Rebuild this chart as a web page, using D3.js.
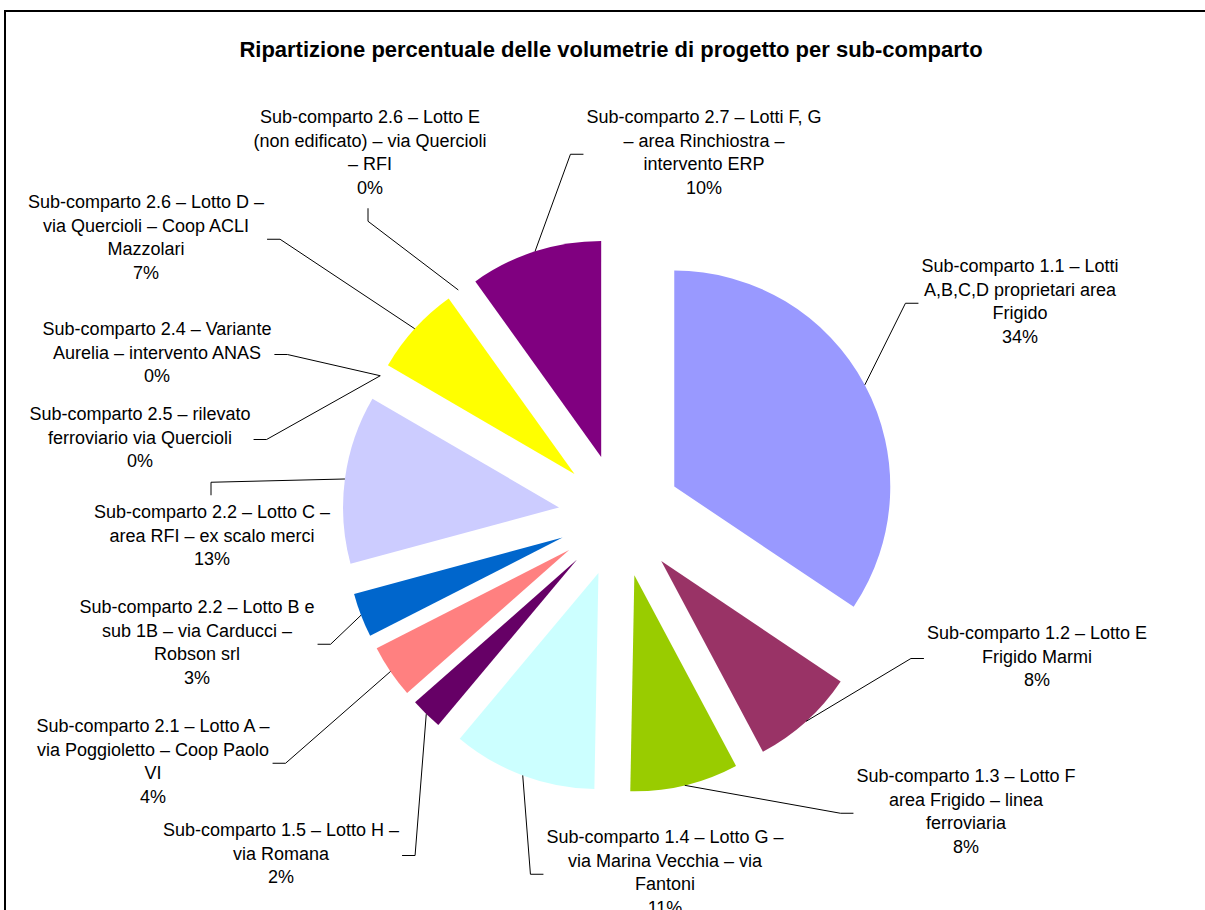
<!DOCTYPE html>
<html><head><meta charset="utf-8">
<script src="https://cdn.jsdelivr.net/npm/d3@7"></script>
<style>body{margin:0;background:#fff;overflow:hidden}svg{display:block}</style>
</head><body>
<svg id="chart" width="1205" height="910"></svg>
<script>
// ---------- data ----------
const title = "Ripartizione percentuale delle volumetrie di progetto per sub-comparto";
const categories = [
  "Sub-comparto 1.1 – Lotti\nA,B,C,D proprietari area\nFrigido",
  "Sub-comparto 1.2 – Lotto E\nFrigido Marmi",
  "Sub-comparto 1.3 – Lotto F\narea Frigido – linea\nferroviaria",
  "Sub-comparto 1.4 – Lotto G –\nvia Marina Vecchia – via\nFantoni",
  "Sub-comparto 1.5 – Lotto H –\nvia Romana",
  "Sub-comparto 2.1 – Lotto A –\nvia Poggioletto – Coop Paolo\nVI",
  "Sub-comparto 2.2 – Lotto B e\nsub 1B – via Carducci –\nRobson srl",
  "Sub-comparto 2.2 – Lotto C –\narea RFI – ex scalo merci",
  "Sub-comparto 2.5 – rilevato\nferroviario via Quercioli",
  "Sub-comparto 2.4 – Variante\nAurelia – intervento ANAS",
  "Sub-comparto 2.6 – Lotto D –\nvia Quercioli – Coop ACLI\nMazzolari",
  "Sub-comparto 2.6 – Lotto E\n(non edificato) – via Quercioli\n– RFI",
  "Sub-comparto 2.7 – Lotti F, G\n– area Rinchiostra –\nintervento ERP"
];
const values = [34.4, 7.8, 8.1, 10.8, 2.4, 4.0, 3.3, 12.6, 0, 0, 6.7, 0, 9.9];

// ---------- style / layout ----------
const colors = ["#9999FF","#993366","#99CC00","#CCFFFF","#660066","#FF8080","#0066CC",
                "#CCCCFF","#000080","#FF00FF","#FFFF00","#00FFFF","#800080"];
const labelPos = [[1020,266],[1037,633],[966,776],[665,837],[281,830],[153,726],[197,607],
                  [212,512],[140,414],[157,329],[146,202],[370,117],[704,117]];
const leaderSide = ["left","left","left","left","right","right","right","top","right","right","right","bottom","left"];

const FONT = "'Liberation Sans', Arial, sans-serif";
const LABEL_SIZE = 18, LINE_H = 23.5;
const cx = 620, cy = 515.5, R = 216, EXPLODE = 61.5;

const svg = d3.select("#chart");
svg.append("rect").attr("x",5).attr("y",11).attr("width",1400).attr("height",1200)
  .attr("fill","#fff").attr("stroke","#000").attr("stroke-width",2);

svg.append("text").attr("x",611).attr("y",49).attr("dy","0.35em")
  .attr("text-anchor","middle").attr("font-family",FONT).attr("font-weight","bold")
  .attr("font-size",22).attr("fill","#000").text(title);

const pieData = d3.pie().sort(null).value(d=>d)(values);
const arc = d3.arc().innerRadius(0).outerRadius(R);
const offArc = d3.arc().innerRadius(EXPLODE).outerRadius(EXPLODE);
const edgeArc = d3.arc().innerRadius(R).outerRadius(R);

const g = svg.append("g").attr("transform",`translate(${cx},${cy})`);
g.selectAll("path.slice").data(pieData.filter(d=>d.value>0)).join("path")
  .attr("class","slice")
  .attr("transform", d=>{const [x,y]=offArc.centroid(d); return `translate(${x},${y})`;})
  .attr("d", arc)
  .attr("fill", d=>colors[d.index]);

const total = d3.sum(values);
const fmt = v => Math.round(v/total*100) + "%";

pieData.forEach((d,i)=>{
  const lines = categories[i].split("\n").concat([fmt(d.value)]);
  const [lx,ly] = labelPos[i];
  const t = svg.append("text").attr("font-family",FONT).attr("font-size",LABEL_SIZE)
    .attr("fill","#000").attr("text-anchor","middle");
  let maxW = 0;
  lines.forEach((s,k)=>{
    const ts = t.append("tspan").attr("x",lx).attr("y",ly + k*LINE_H).attr("dy","0.35em").text(s);
    maxW = Math.max(maxW, ts.node().getComputedTextLength());
  });
  const top = ly - LINE_H/2, bottom = ly + (lines.length-1)*LINE_H + LINE_H/2;
  const midY = (top+bottom)/2 + 2;
  const left = lx - maxW/2, right = lx + maxW/2;
  let p0, p1;
  const side = leaderSide[i];
  if (side==="left"){ p0=[left-3, midY]; p1=[left-16, midY]; }
  else if (side==="right"){ p0=[right+3, midY]; p1=[right+16, midY]; }
  else if (side==="top"){ p0=[lx-1, top-5]; p1=[lx-1, top-18]; }
  else { p0=[lx-2, bottom+9]; p1=[lx-2, bottom+22]; }
  const [ox,oy] = offArc.centroid(d);
  const [ex,ey] = edgeArc.centroid(d);
  const anchor = [cx+ox+ex, cy+oy+ey];
  svg.append("path").attr("d", d3.line()([p0,p1,anchor]))
    .attr("fill","none").attr("stroke","#000").attr("stroke-width",1);
});
</script>
</body></html>
